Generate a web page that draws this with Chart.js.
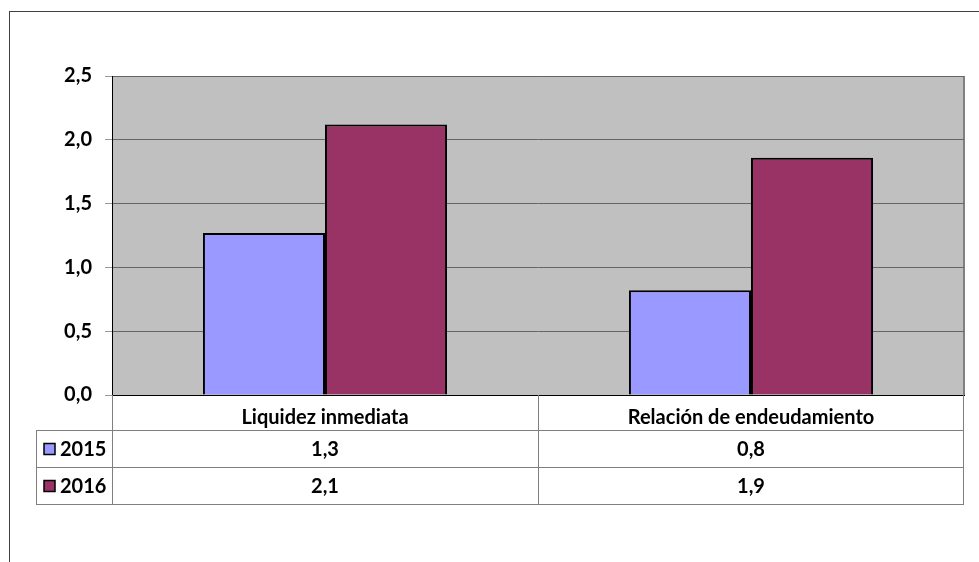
<!DOCTYPE html>
<html>
<head>
<meta charset="utf-8">
<script src="https://cdn.jsdelivr.net/npm/chart.js@4/dist/chart.umd.min.js"></script>
<style>
  html, body { margin: 0; padding: 0; background: #fff; }
  #wrap { position: relative; width: 979px; height: 562px; }
  #frame { position: absolute; left: 9px; top: 11px; right: -2px; bottom: -2px; border-left: 1px solid #404040; border-top: 1px solid #404040; }
  canvas { position: absolute; left: 0; top: 0; }
</style>
</head>
<body>
<div id="wrap">
  <div id="frame"></div>
  <canvas id="chart" width="979" height="562"></canvas>
</div>
<script>
const categories = ['Liquidez inmediata', 'Relación de endeudamiento'];
const seriesNames = ['2015', '2016'];
const values2015 = [1.27, 0.82];
const values2016 = [2.12, 1.86];
const yTicks = [0, 0.5, 1, 1.5, 2, 2.5];

const FONT = 'Lato, "Open Sans", sans-serif';
const SIZE = 20;
const fmt = v => v.toFixed(1).replace('.', ',');

// gray plot background + table under the x axis
const plotAndTable = {
  id: 'plotAndTable',
  beforeDraw(chart) {
    const { ctx, chartArea: a } = chart;
    ctx.save();
    ctx.fillStyle = '#c0c0c0';
    ctx.fillRect(a.left, a.top, a.right - a.left, a.bottom - a.top);
    ctx.strokeStyle = '#8a8a8a';
    ctx.lineWidth = 1;
    ctx.beginPath();
    ctx.moveTo(a.left, a.top + 0.5); ctx.lineTo(a.right, a.top + 0.5);
    ctx.stroke();
    ctx.strokeStyle = '#808080';
    ctx.lineWidth = 2;
    ctx.beginPath();
    ctx.moveTo(a.right, a.top); ctx.lineTo(a.right, a.bottom);
    ctx.stroke();
    ctx.restore();
  },
  afterDraw(chart) {
    const { ctx } = chart;
    const x = chart.scales.x;
    const rowH = 37;
    const top = x.top;
    const firstRow = x.bottom;
    const legendLeft = 36;
    const bottom = firstRow + rowH * seriesNames.length;
    const mids = [];
    for (let i = 1; i < categories.length; i++) {
      mids.push(Math.round((x.getPixelForTick(i - 1) + x.getPixelForTick(i)) / 2) + 0.5);
    }
    ctx.save();
    ctx.strokeStyle = '#7f7f7f';
    ctx.lineWidth = 1;
    ctx.beginPath();
    [x.left + 0.5, ...mids, x.right - 0.5].forEach(px => { ctx.moveTo(px, top); ctx.lineTo(px, bottom); });
    ctx.moveTo(legendLeft + 0.5, firstRow); ctx.lineTo(legendLeft + 0.5, bottom);
    for (let r = 0; r <= seriesNames.length; r++) {
      const y = firstRow + r * rowH + 0.5;
      ctx.moveTo(legendLeft, y); ctx.lineTo(x.right, y);
    }
    ctx.stroke();

    ctx.font = 'bold ' + SIZE + 'px ' + FONT;
    ctx.fillStyle = '#000';
    ctx.textBaseline = 'middle';
    chart.data.datasets.forEach((ds, r) => {
      const cy = firstRow + r * rowH + rowH / 2 + 1;
      ctx.fillStyle = ds.backgroundColor;
      ctx.fillRect(legendLeft + 8, cy - 6, 11, 11);
      ctx.strokeStyle = '#000';
      ctx.lineWidth = 1.5;
      ctx.strokeRect(legendLeft + 8, cy - 6, 11, 11);
      ctx.fillStyle = '#000';
      ctx.textAlign = 'left';
      ctx.fillText(ds.label, legendLeft + 24, cy);
      ctx.textAlign = 'center';
      ds.data.forEach((v, i) => ctx.fillText(fmt(v), x.getPixelForTick(i), cy));
    });
    ctx.restore();
  }
};

new Chart(document.getElementById('chart'), {
  type: 'bar',
  data: {
    labels: categories,
    datasets: [
      { label: seriesNames[0], data: values2015, backgroundColor: '#9999ff', borderColor: '#000', borderWidth: 2 },
      { label: seriesNames[1], data: values2016, backgroundColor: '#993366', borderColor: '#000', borderWidth: 2 }
    ]
  },
  options: {
    responsive: false,
    animation: false,
    layout: { padding: { top: 76, right: 15, bottom: 132, left: 0 } },
    plugins: { legend: { display: false }, tooltip: { enabled: false } },
    datasets: { bar: { barPercentage: 1, categoryPercentage: 0.573 } },
    scales: {
      x: {
        afterFit: s => { s.height = 35; },
        grid: { display: false },
        border: { color: '#000', width: 1 },
        ticks: { color: '#000', padding: 3, font: { family: FONT, size: SIZE, weight: 'bold' } }
      },
      y: {
        min: 0, max: 2.5,
        afterFit: s => { s.width = 112; },
        afterBuildTicks: s => { s.ticks = yTicks.map(v => ({ value: v })); },
        grid: { color: '#666', tickColor: '#999', tickLength: 7 },
        border: { color: '#000', width: 1 },
        ticks: {
          color: '#000', padding: 13,
          font: { family: FONT, size: SIZE, weight: 'bold' },
          callback: v => fmt(v)
        }
      }
    }
  },
  plugins: [plotAndTable]
});
</script>
</body>
</html>
